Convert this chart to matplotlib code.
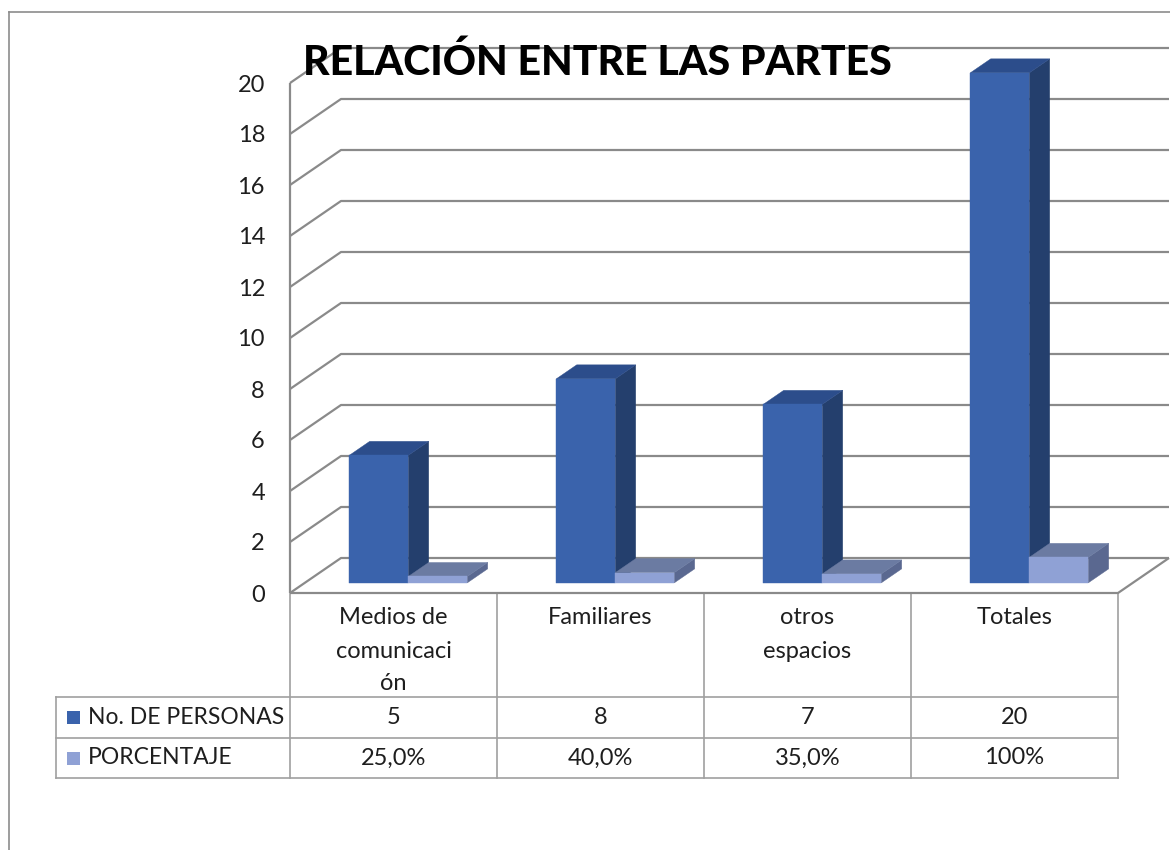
import numpy as np
import matplotlib
matplotlib.use("Agg")
import matplotlib.pyplot as plt
from matplotlib.patches import Polygon, Rectangle
from matplotlib.lines import Line2D
from matplotlib.transforms import IdentityTransform

# ---------------- data ----------------
title = "RELACIÓN ENTRE LAS PARTES"
categories = ["Medios de\ncomunicaci\nón", "Familiares", "otros\nespacios", "Totales"]
series_names = ["No. DE PERSONAS", "PORCENTAJE"]
personas = [5, 8, 7, 20]
porcentaje = [0.25, 0.40, 0.35, 1.00]
personas_txt = ["5", "8", "7", "20"]
porcentaje_txt = ["25,0%", "40,0%", "35,0%", "100%"]
yticks = list(range(0, 21, 2))

# ---------------- style ----------------
W, H = 1170, 850
DPI = 100
FONT = ["Lato", "DejaVu Sans"]
TXT = "#1e1e1e"
GRID = "#8a8a8a"
TBL = "#a0a0a0"
front_c = ["#3A63AC", "#8FA1D5"]
top_c = ["#2C4D8B", "#6B7BA2"]
side_c = ["#243F6D", "#5A6890"]
DX, DY = 51, 35          # full depth offset in pixels
D0, D1 = 0.29, 0.69      # bar depth range
BW = 0.285               # bar width (category units)

plt.rcParams["font.family"] = FONT
fig = plt.figure(figsize=(W / DPI, H / DPI), dpi=DPI)
fig.patch.set_facecolor("white")

def fx(px):
    return px / W

def fy(py):
    return 1 - py / H

# outer chart border (top & left)
fig.add_artist(Line2D([fx(9), 1.0], [fy(12), fy(12)], transform=fig.transFigure,
                      color="#8c8c8c", lw=1.2))
fig.add_artist(Line2D([fx(9), fx(9)], [fy(12), 0.0], transform=fig.transFigure,
                      color="#8c8c8c", lw=1.2))

# ---------------- main (front plane) axes ----------------
ax = fig.add_axes([fx(290), fy(593), (1118 - 290) / W, (593 - 83) / H])
ax.set_xlim(0, 4)
ax.set_ylim(0, 20)
ax.patch.set_visible(False)
for s in ax.spines.values():
    s.set_visible(False)
ax.set_xticks([])
ax.set_yticks(yticks)
ax.tick_params(axis="y", length=0, pad=18, labelsize=17, labelcolor=TXT)

ident = IdentityTransform()

def P(x, v, d):
    p = ax.transData.transform((x, v))
    return (p[0] + d * DX, p[1] + d * DY)

def pline(pts, color=GRID, lw=1.6, z=1):
    xs = [p[0] for p in pts]
    ys = [p[1] for p in pts]
    fig.add_artist(Line2D(xs, ys, transform=ident, color=color, lw=lw, zorder=z,
                          solid_capstyle="butt"))

# back wall gridlines with left-wall diagonals
for v in yticks:
    pline([P(0, v, 0), P(0, v, 1), P(4, v, 1)])
# floor front edge and right diagonal
pline([P(0, 0, 0), P(4, 0, 0), P(4, 0, 1)])
# front vertical axis
pline([P(0, 0, 0), P(0, 20, 0)])

def box(x0, x1, v, k):
    front = [P(x0, 0, D0), P(x1, 0, D0), P(x1, v, D0), P(x0, v, D0)]
    top = [P(x0, v, D0), P(x1, v, D0), P(x1, v, D1), P(x0, v, D1)]
    side = [P(x1, 0, D0), P(x1, 0, D1), P(x1, v, D1), P(x1, v, D0)]
    for pts, c in ((side, side_c[k]), (top, top_c[k]), (front, front_c[k])):
        fig.add_artist(Polygon(pts, closed=True, transform=ident, facecolor=c,
                               edgecolor=c, lw=0.3, zorder=3))

for i in range(len(categories)):
    c = i + 0.5
    box(c - BW, c, personas[i], 0)
    box(c, c + BW, porcentaje[i], 1)

# title
fig.text(fx(597), fy(62), title, ha="center", va="center", fontsize=29.5,
         fontweight="black", color="black", family=FONT, zorder=5)

# ---------------- data table ----------------
LEFT = (290 - 56) / 207
at = fig.add_axes([fx(56), fy(778), (1118 - 56) / W, (778 - 593) / H])
at.set_xlim(-LEFT, 4)
at.set_ylim(185, 0)
at.axis("off")

def tl(xs, ys):
    at.add_line(Line2D(xs, ys, color=TBL, lw=1.2, clip_on=False))

r_head, r1, r2 = 104, 145, 185
tl([-LEFT, 4], [r_head, r_head])
tl([-LEFT, 4], [r1, r1])
tl([-LEFT, 4], [r2, r2])
tl([-LEFT, -LEFT], [r_head, r2])
for i in range(len(categories) + 1):
    tl([i, i], [0, r2])

for i, cat in enumerate(categories):
    for k, line in enumerate(cat.split("\n")):
        at.text(i + 0.5, 25 + 33 * k, line, ha="center", va="center",
                fontsize=17, color=TXT)
    at.text(i + 0.5, (r_head + r1) / 2, personas_txt[i], ha="center", va="center",
            fontsize=17, color=TXT)
    at.text(i + 0.5, (r1 + r2) / 2, porcentaje_txt[i], ha="center", va="center",
            fontsize=17, color=TXT)

# legend keys in the table
sq = 13 / 207
for k, (name, yy) in enumerate(zip(series_names, [(r_head + r1) / 2, (r1 + r2) / 2])):
    x0 = -LEFT + 11 / 207
    at.add_patch(Rectangle((x0, yy - 6.5), sq, 13, facecolor=front_c[k],
                           edgecolor="none", clip_on=False))
    at.text(-LEFT + 32 / 207, yy, name, ha="left", va="center", fontsize=16.5,
            color=TXT)

fig.savefig("out.png", dpi=DPI, facecolor="white")
